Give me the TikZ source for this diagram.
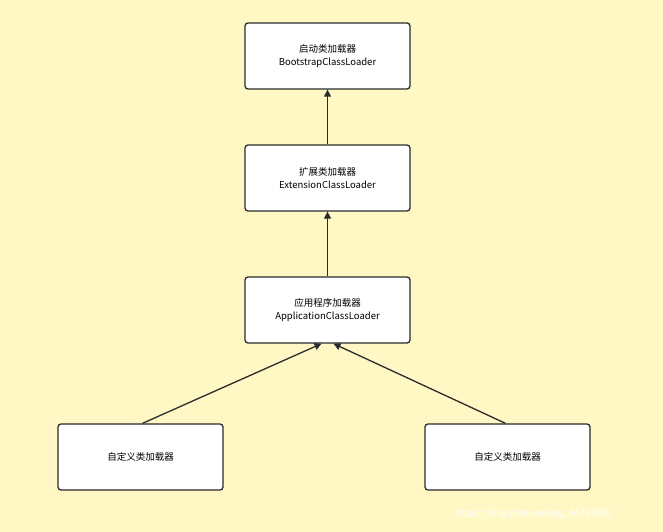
\documentclass[tikz,border=0pt]{standalone}
\usepackage{fontspec}
\setmainfont{Noto Sans CJK SC}
\usetikzlibrary{positioning,arrows.meta}
\definecolor{bgyellow}{HTML}{FFF8C5}
\definecolor{myblack}{HTML}{2B2B2B}
\tikzset{every text node part/.style={align=center, font={\fontsize{9.5}{13}\selectfont}}}
\tikzset{block/.style={draw=myblack, fill=white, rounded corners=3pt, line width=1.3pt, minimum width=165pt, minimum height=66pt, inner sep=0pt}}
\tikzset{ln/.style={draw=myblack, line width=1.3pt, -{Triangle[length=7pt,width=7pt]}}}

\begin{document}
\begin{tikzpicture}[x=1pt, y=-1pt]
  \fill[bgyellow] (0,0) rectangle (663,532);
  \useasboundingbox (0,0) rectangle (663,532);
  \node[block] (boot) at (327.5,56) {启动类加载器\\BootstrapClassLoader};
  \node[block] (ext) at (327.5,178) {扩展类加载器\\ExtensionClassLoader};
  \node[block] (app) at (327.5,310) {应用程序加载器\\ApplicationClassLoader};
  \node[block] (userl) at (140.5,457) {自定义类加载器};
  \node[block] (userr) at (507.5,457) {自定义类加载器};
  \node[text=white, font={\fontsize{11}{13}\selectfont}] (mark) at (533,514) {https://blog.csdn.net/qq\_44752800};
  \draw[ln] (ext) -- (boot);
  \draw[ln] (app) -- (ext);
  \draw[ln] ([xshift=2pt]userl.north) -- ([xshift=-6pt]app.south);
  \draw[ln] ([xshift=-2pt]userr.north) -- ([xshift=6pt]app.south);
\end{tikzpicture}
\end{document}
